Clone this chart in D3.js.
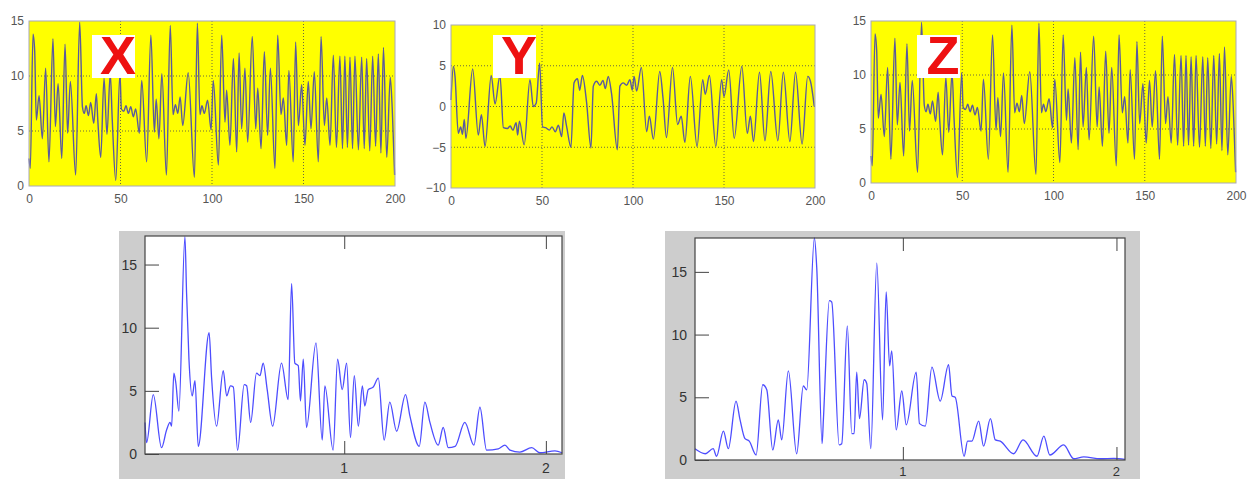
<!DOCTYPE html>
<html>
<head>
<meta charset="utf-8">
<script src="https://cdn.jsdelivr.net/npm/d3@7"></script>
<style>
  body { margin: 0; background: #fff; }
  svg { display: block; font-family: "Liberation Sans", Arial, sans-serif; }
</style>
</head>
<body>
<div class="svg-container"></div>
<script>
const w = 1258;
const h = 479;

// [t, value] vertices (0..200)
const xSignal = [[0,2.5],[0.7,1.6],[2.2,13.8],[3.1,12.3],[4,6],[5.5,8.2],[7.3,4.3],[9.1,10.7],[10.9,2.2],[13.1,13.4],[14.4,5.4],[15.9,9.3],[17.9,2.5],[19.7,12.9],[21.1,4.8],[22.6,9.5],[25.5,1],[27.7,14.9],[29.2,7.2],[30.2,6.6],[31.2,7.3],[32.5,6.4],[33.7,7.6],[35.4,5.7],[36.8,8.4],[37.6,6],[39.2,2.6],[41,9.8],[42.6,4.7],[44.4,10.2],[45.5,6],[47.4,0.5],[49.7,10.2],[50.5,7],[51.8,6.8],[53,7.3],[54.3,6.6],[55.6,7.2],[57,6.3],[58.3,7],[60.3,4.8],[61.6,9.6],[64.3,2.2],[66.6,13.7],[68.5,4.9],[69.5,7.9],[71,4.3],[72.6,10.2],[75.1,1],[77.2,14.6],[78.7,6.5],[80,7.4],[81.3,6.6],[82.6,8.1],[84,5.5],[87,10.3],[90.4,0.8],[92,14.8],[93.4,6.5],[94.5,7.3],[95.8,6.6],[97.6,7.8],[99.5,5.1],[100.7,9.6],[103.5,1.9],[105.3,13.7],[107.1,5.8],[108,8.7],[109.8,3.7],[111.7,11.6],[113.5,3.1],[114.8,12.1],[116.2,5.2],[118,10.7],[119.5,4],[122,13.6],[123.9,5.2],[125,8.9],[126.8,3.4],[128.6,12.2],[130.4,4.6],[131.9,10.7],[134.4,1.6],[135.9,13.7],[137.7,6.5],[139,8],[140.8,3.7],[142,10.5],[144.4,2.2],[145.7,13.1],[147.2,5.5],[149,9.2],[150.8,3.7],[152.6,9.5],[154.1,5.2],[155.9,10.4],[158.1,2.2],[159.6,13.6],[161.4,5.5],[162.7,8],[164.5,3.7],[166.3,11.9],[168,3.5],[169.9,11.8],[171.3,3.4],[172.6,11.8],[174,3.5],[175.4,11.7],[176.8,3.4],[178.1,11.8],[180,3.3],[181.8,11.7],[183.2,3.4],[184.5,11.6],[186.2,3.2],[187.8,11.8],[189.4,3.6],[190.9,12],[192.3,3],[193.7,12.6],[195.5,2.6],[197.4,9.9],[198.5,7],[199.8,1]];

const ySignal = [[0,0.8],[1.3,4.9],[2.2,3.7],[4,-3.3],[5.3,-2.5],[6.3,-3.4],[7.3,-1.6],[8.2,-3.9],[11.9,4.6],[15,-3.5],[16.7,-1],[18.7,-4.9],[22.1,3.8],[24.2,0.3],[26.9,3.8],[28.8,-2.6],[31,-2.7],[32.5,-2.4],[34,-2.9],[35.8,-2],[36.6,-3.5],[37.6,-1.8],[40.2,-4.7],[43.4,3.3],[45.2,0],[46.8,0.4],[48.7,5.3],[50.3,-2.5],[52,-2.6],[54,-2.9],[55.5,-2.5],[57.3,-3.1],[59,-2.3],[60.8,-3.7],[62,-0.8],[63.5,-2.4],[65.9,-5],[67.6,2.9],[69.5,3.4],[70.7,2],[72.2,3.8],[74.5,0.5],[76.9,-5.1],[78.2,2.5],[80,3.1],[81.8,2.6],[83.5,3.2],[84.8,2.2],[86.4,3.7],[88.2,1.6],[91.4,-5.3],[92.8,2.5],[94.6,2.9],[96.5,2.6],[98.3,3.3],[99.6,2],[100.6,3.7],[102,1.9],[104.6,4.8],[107.5,-3.1],[109,-1.2],[111.2,-4],[114.7,4.3],[116.5,1],[118.4,-3.8],[121.7,4.8],[124.5,-2.2],[126.5,-1.2],[128.5,-4.4],[131.5,3.7],[135.2,-4.9],[138.3,3.3],[139.7,1.5],[142,3.8],[145.5,-4.9],[148.7,3.3],[150,1.2],[152.6,4.5],[155.6,-3.9],[159.8,4.9],[162.8,-3.3],[164.5,-1.2],[166.2,-4.3],[169.5,4.2],[172.5,-4.2],[175.7,4.3],[179.6,-4.2],[182.6,4.2],[186.2,-4.3],[189.3,4.2],[192.9,-4.6],[196,3.7],[197.5,3.1],[199.6,0]];

// Z trace reads the same as X in the picture
const zSignal = xSignal;

// [frequency, magnitude] vertices of the two spectra
const spectrumA = [[0.012,2.5],[0.02,0.9],[0.053,4.7],[0.094,0.5],[0.119,1.9],[0.136,2.5],[0.144,2.2],[0.155,6.4],[0.165,5.6],[0.18,3.4],[0.21,17.2],[0.218,12.8],[0.23,7.5],[0.246,4.6],[0.26,5.8],[0.276,0.6],[0.33,9.6],[0.342,6.1],[0.367,2.2],[0.4,6.6],[0.417,4.6],[0.436,5.4],[0.45,5.3],[0.471,0.3],[0.504,5.5],[0.516,5.4],[0.536,2.5],[0.565,6.4],[0.582,6.2],[0.598,7.2],[0.618,5.1],[0.645,2.2],[0.689,7.2],[0.722,4.3],[0.739,13.5],[0.755,7.2],[0.772,7],[0.783,4.2],[0.797,7.5],[0.813,2.1],[0.86,8.8],[0.891,1.1],[0.904,5.4],[0.945,0.3],[0.967,7.5],[0.99,5.1],[1.012,7.2],[1.031,1.3],[1.05,6.2],[1.07,2.2],[1.09,5.4],[1.102,3.8],[1.119,5.1],[1.144,5.3],[1.169,6],[1.198,1.1],[1.226,4.1],[1.26,1.8],[1.304,4.7],[1.326,3],[1.372,0.6],[1.4,4.1],[1.425,2.5],[1.466,0.7],[1.491,2.1],[1.516,0.5],[1.55,0.6],[1.598,2.5],[1.643,0.7],[1.673,3.7],[1.706,0.3],[1.764,0.4],[1.797,0.7],[1.822,0.3],[1.871,0.15],[1.93,0.5],[1.97,0.1],[2.045,0.25],[2.08,0.1]];

const spectrumB = [[0.027,0.9],[0.075,0.5],[0.112,0.9],[0.128,0.3],[0.16,2.3],[0.183,0.9],[0.219,4.7],[0.238,3.2],[0.261,1.7],[0.281,1.5],[0.313,0.4],[0.344,6],[0.363,5.6],[0.391,0.8],[0.417,3.2],[0.433,1.6],[0.464,7.1],[0.503,0.5],[0.534,5.9],[0.55,5.6],[0.586,17.7],[0.597,15.3],[0.622,1.3],[0.628,3.2],[0.656,12.7],[0.667,12.6],[0.702,1.2],[0.714,1.3],[0.74,10.7],[0.761,2.1],[0.772,2.1],[0.784,7],[0.797,3.3],[0.819,6.4],[0.831,6.1],[0.85,0.9],[0.878,15.7],[0.905,3.2],[0.922,13.4],[0.938,7.5],[0.948,8.7],[0.969,2.4],[0.995,5.5],[1.016,2.8],[1.0625,7],[1.078,2.9],[1.105,2.7],[1.136,7.4],[1.175,4.7],[1.214,7.6],[1.23,5.1],[1.245,5],[1.287,0.3],[1.303,1.5],[1.323,1.5],[1.355,3.1],[1.378,1.1],[1.41,3.3],[1.433,1.6],[1.456,1.5],[1.519,0.5],[1.5625,1.6],[1.628,0.3],[1.66,1.9],[1.688,0.4],[1.753,1.2],[1.8,0.1],[1.847,0.25],[1.925,0.1],[1.988,0.13],[2.04,0.05]];

const timeTicks = [0, 50, 100, 150, 200];
const xyTicks = [0, 5, 10, 15];
const yTicks = [-10, -5, 0, 5, 10];
const freqTicks = [1, 2];
const magTicks = [0, 5, 10, 15];

const svg = d3
	.select('.svg-container')
	.append('svg')
	.attr('width', w)
	.attr('height', h)
	.style('background-color', '#fff');

// top row: time traces on yellow
function drawTrace(cfg) {
	const x = d3.scaleLinear().domain([0, 200]).range([cfg.left, cfg.right]);
	const y = d3.scaleLinear().domain(cfg.yDomain).range([cfg.bottom, cfg.top]);
	const g = svg.append('g');

	g.append('rect')
		.attr('x', cfg.left)
		.attr('y', cfg.top)
		.attr('width', cfg.right - cfg.left)
		.attr('height', cfg.bottom - cfg.top)
		.attr('fill', '#ffff00');

	// dotted grid
	g.selectAll('.gx')
		.data(timeTicks.slice(1, -1))
		.enter()
		.append('line')
		.attr('x1', d => x(d))
		.attr('x2', d => x(d))
		.attr('y1', cfg.top)
		.attr('y2', cfg.bottom)
		.attr('stroke', '#6a6a40')
		.attr('stroke-dasharray', '1,2');
	g.selectAll('.gy')
		.data(cfg.yTicks.slice(1, -1))
		.enter()
		.append('line')
		.attr('x1', cfg.left)
		.attr('x2', cfg.right)
		.attr('y1', d => y(d))
		.attr('y2', d => y(d))
		.attr('stroke', '#6a6a40')
		.attr('stroke-dasharray', '1,2');

	g.append('path')
		.datum(cfg.data)
		.attr('fill', 'none')
		.attr('stroke', '#5a5a9e')
		.attr('stroke-width', 1.4)
		.attr('stroke-linejoin', 'round')
		.attr('d', d3.line().curve(d3.curveMonotoneX).x(d => x(d[0])).y(d => y(d[1])));

	g.append('rect')
		.attr('x', cfg.left)
		.attr('y', cfg.top)
		.attr('width', cfg.right - cfg.left)
		.attr('height', cfg.bottom - cfg.top)
		.attr('fill', 'none')
		.attr('stroke', '#a8a8b8');

	const xAxis = d3.axisBottom(x).tickValues(timeTicks).tickSize(0).tickPadding(8);
	g.append('g')
		.attr('transform', `translate(0, ${cfg.bottom})`)
		.call(xAxis)
		.call(a => a.select('.domain').remove())
		.selectAll('text')
		.attr('fill', '#555')
		.style('font-size', '12px');

	const yAxis = d3.axisLeft(y).tickValues(cfg.yTicks).tickSize(0).tickPadding(5);
	g.append('g')
		.attr('transform', `translate(${cfg.left}, 0)`)
		.call(yAxis)
		.call(a => a.select('.domain').remove())
		.selectAll('text')
		.attr('fill', '#555')
		.style('font-size', '12px');

	// white tag with the red letter
	g.append('rect')
		.attr('x', cfg.tag[0])
		.attr('y', cfg.tag[1])
		.attr('width', 43)
		.attr('height', 43)
		.attr('fill', '#fff');
	g.append('text')
		.attr('x', cfg.tag[0] + 26)
		.attr('y', cfg.tag[1] + 39)
		.attr('text-anchor', 'middle')
		.attr('fill', '#ee1111')
		.style('font-size', '54px')
		.style('font-weight', 'bold')
		.text(cfg.label);
}

drawTrace({data: xSignal, label: 'X', left: 29, right: 395, top: 21, bottom: 186, yDomain: [0, 15], yTicks: xyTicks, tag: [92, 35]});
drawTrace({data: ySignal, label: 'Y', left: 451, right: 815, top: 25, bottom: 188, yDomain: [-10, 10], yTicks: yTicks, tag: [493, 35]});
drawTrace({data: zSignal, label: 'Z', left: 871, right: 1236, top: 21, bottom: 183, yDomain: [0, 15], yTicks: xyTicks, tag: [917, 35]});

// bottom row: spectra in a grey matlab frame
function drawSpectrum(cfg) {
	const x = d3.scaleLinear().domain(cfg.xDomain).range([cfg.left, cfg.right]);
	const y = d3.scaleLinear().domain(cfg.yDomain).range([cfg.bottom, cfg.top]);
	const g = svg.append('g');

	g.append('rect')
		.attr('x', cfg.frame[0])
		.attr('y', cfg.frame[1])
		.attr('width', cfg.frame[2] - cfg.frame[0])
		.attr('height', h - cfg.frame[1])
		.attr('fill', '#cdcdcd');
	g.append('rect')
		.attr('x', cfg.left)
		.attr('y', cfg.top)
		.attr('width', cfg.right - cfg.left)
		.attr('height', cfg.bottom - cfg.top)
		.attr('fill', '#fff');

	g.append('path')
		.datum(cfg.data)
		.attr('fill', 'none')
		.attr('stroke', '#4d4dff')
		.attr('stroke-width', 1.3)
		.attr('stroke-linejoin', 'round')
		.attr('d', d3.line().curve(d3.curveMonotoneX).x(d => x(d[0])).y(d => y(d[1])));

	g.append('rect')
		.attr('x', cfg.left)
		.attr('y', cfg.top)
		.attr('width', cfg.right - cfg.left)
		.attr('height', cfg.bottom - cfg.top)
		.attr('fill', 'none')
		.attr('stroke', '#444')
		.attr('stroke-width', 1.2);

	// ticks point inward, matlab style
	const yAxis = d3.axisRight(y).tickValues(magTicks).tickSize(14).tickFormat('');
	g.append('g')
		.attr('transform', `translate(${cfg.left}, 0)`)
		.call(yAxis)
		.call(a => a.select('.domain').remove())
		.selectAll('line')
		.attr('stroke', '#444');
	g.selectAll('.ylab')
		.data(magTicks)
		.enter()
		.append('text')
		.attr('x', cfg.left - 8)
		.attr('y', d => y(d) + 5)
		.attr('text-anchor', 'end')
		.attr('fill', '#333')
		.style('font-size', '14px')
		.text(d => d);

	const xTop = d3.axisBottom(x).tickValues(freqTicks).tickSize(13).tickFormat('');
	g.append('g')
		.attr('transform', `translate(0, ${cfg.top})`)
		.call(xTop)
		.call(a => a.select('.domain').remove())
		.selectAll('line')
		.attr('stroke', '#444');
	const xBottom = d3.axisTop(x).tickValues(freqTicks).tickSize(13).tickFormat('');
	g.append('g')
		.attr('transform', `translate(0, ${cfg.bottom})`)
		.call(xBottom)
		.call(a => a.select('.domain').remove())
		.selectAll('line')
		.attr('stroke', '#444');
	g.selectAll('.xlab')
		.data(freqTicks)
		.enter()
		.append('text')
		.attr('x', d => x(d))
		.attr('y', Math.min(cfg.bottom + 19, h - 3))
		.attr('text-anchor', 'middle')
		.attr('fill', '#333')
		.style('font-size', cfg.bottom > 456 ? '13px' : '14px')
		.text(d => d);
}

drawSpectrum({data: spectrumA, left: 145, right: 562, top: 236, bottom: 454, xDomain: [0.012, 2.08], yDomain: [0, 17.26], frame: [119, 231, 565]});
drawSpectrum({data: spectrumB, left: 695, right: 1125, top: 238, bottom: 460, xDomain: [0.027, 2.04], yDomain: [0, 17.7], frame: [665, 231, 1140]});
</script>
</body>
</html>
